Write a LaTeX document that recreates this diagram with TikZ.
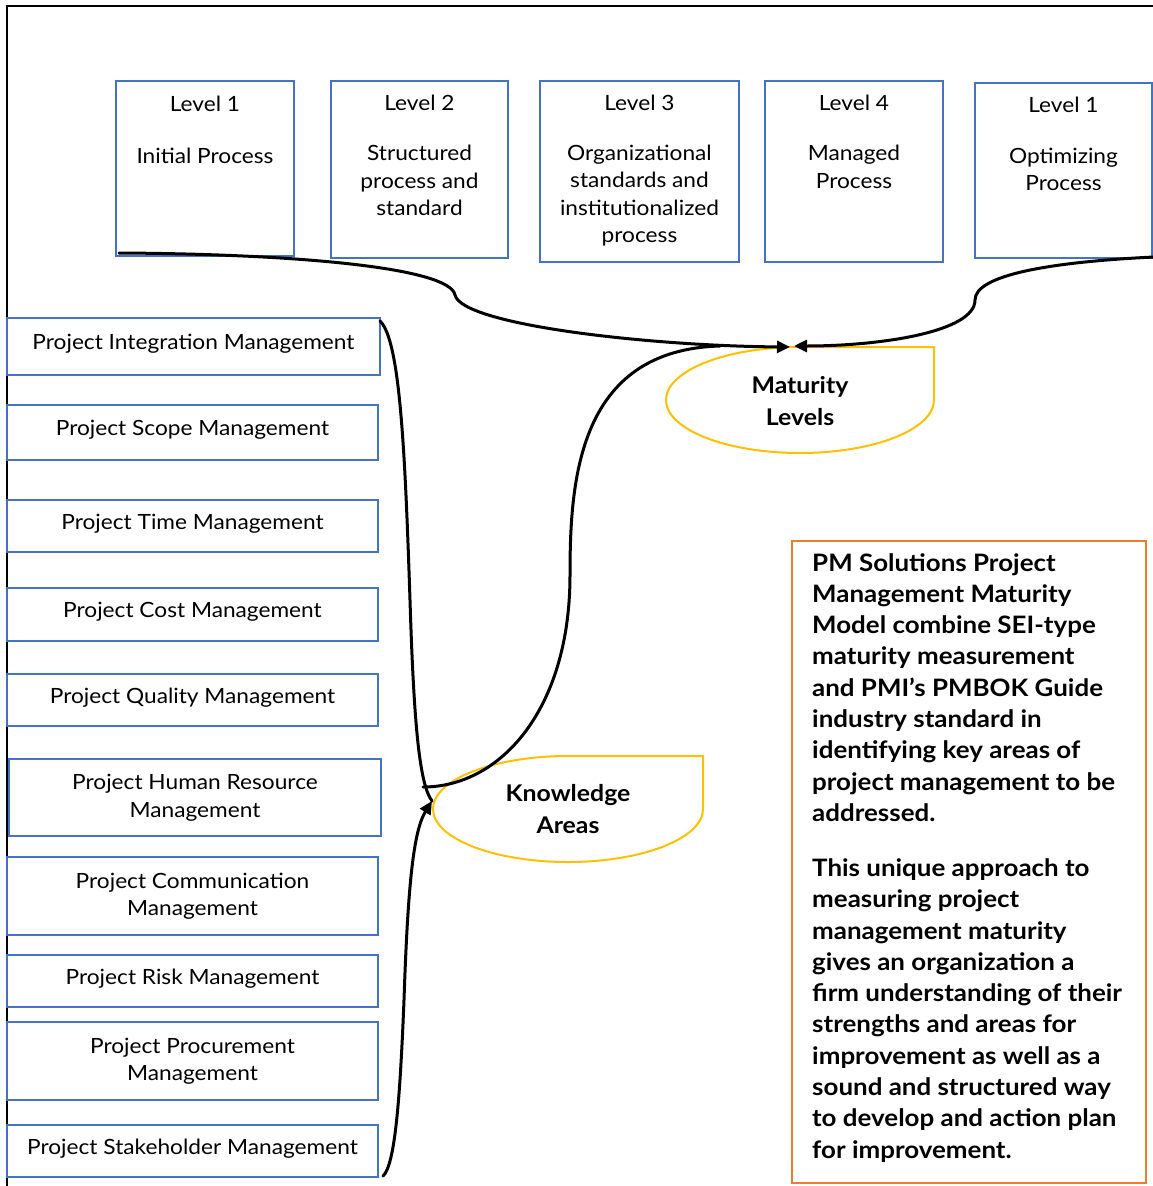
\documentclass[tikz,border=0pt]{standalone}
\usepackage{fontspec}
\setmainfont[FakeStretch=1.08]{Lato}
\usetikzlibrary{arrows.meta}
\definecolor{boxblue}{HTML}{4472C4}
\definecolor{gold}{HTML}{FFC000}
\definecolor{orng}{HTML}{ED7D31}
\begin{document}
\begin{tikzpicture}[x=1pt,y=1pt,
  lvbox/.style={draw=boxblue, line width=2pt, inner sep=0pt},
  lvtext/.style={align=center, font=\fontsize{21}{27.5}\selectfont, inner sep=0pt},
  kbox/.style={draw=boxblue, line width=2pt, inner sep=0pt, align=center, text depth=9pt, font=\fontsize{21}{27.5}\selectfont},
  kboxtwo/.style={kbox, text depth=3pt},
  tear/.style={draw=gold, line width=2pt},
  conn/.style={line width=3pt, line cap=round},
  tip/.style={-{Triangle[length=13pt,width=12pt]}},
  boldlbl/.style={align=center, font=\bfseries\fontsize{23}{32}\selectfont, inner sep=0pt}
]
\useasboundingbox (0,0) rectangle (1153,-1186);
% frame
\draw[line width=2.5pt] (7,-1186) -- (7,-6) -- (1153,-6);

% level boxes
\node[lvbox, minimum width=178pt, minimum height=175pt] (L1) at (205,-168.5) {};
\node[lvbox, minimum width=177pt, minimum height=177pt] (L2) at (419.5,-169.5) {};
\node[lvbox, minimum width=199pt, minimum height=181pt] (L3) at (639.5,-171.5) {};
\node[lvbox, minimum width=178pt, minimum height=181pt] (L4) at (854,-171.5) {};
\node[lvbox, minimum width=177pt, minimum height=175pt] (L5) at (1063.5,-170.5) {};

\node[lvtext] (L1a) at (205,-104) {Level 1};
\node[lvtext] (L1b) at (205,-156) {Initial Process};
\node[lvtext] (L2a) at (419.5,-103) {Level 2};
\node[lvtext] (L2b) at (419.5,-180.5) {Structured\\process and\\standard};
\node[lvtext] (L3a) at (639.5,-103) {Level 3};
\node[lvtext] (L3b) at (639.5,-195.5) {Organizational\\standards and\\institutionalized\\process};
\node[lvtext] (L4a) at (854,-103) {Level 4};
\node[lvtext] (L4b) at (854,-167) {Managed\\Process};
\node[lvtext] (L5a) at (1063.5,-105) {Level 1};
\node[lvtext] (L5b) at (1063.5,-169.5) {Optimizing\\Process};

% knowledge area boxes
\node[kbox, minimum width=373pt, minimum height=57pt] (K1) at (193.5,-346.5) {Project Integration Management};
\node[kbox, minimum width=371pt, minimum height=55pt] (K2) at (192.5,-432.5) {Project Scope Management};
\node[kbox, minimum width=371pt, minimum height=52pt] (K3) at (192.5,-526) {Project Time Management};
\node[kbox, minimum width=371pt, minimum height=53pt] (K4) at (192.5,-614.5) {Project Cost Management};
\node[kbox, minimum width=371pt, minimum height=52pt] (K5) at (192.5,-700) {Project Quality Management};
\node[kboxtwo, minimum width=372pt, minimum height=77pt] (K6) at (195,-797.5) {Project Human Resource\\Management};
\node[kboxtwo, minimum width=371pt, minimum height=78pt] (K7) at (192.5,-896) {Project Communication\\Management};
\node[kbox, minimum width=371pt, minimum height=52pt] (K8) at (192.5,-981) {Project Risk Management};
\node[kboxtwo, minimum width=371pt, minimum height=78pt] (K9) at (192.5,-1061) {Project Procurement\\Management};
\node[kbox, minimum width=371pt, minimum height=52pt] (K10) at (192.5,-1151) {Project Stakeholder Management};

% teardrop shapes
\draw[tear] (800,-347) -- (934,-347) -- (934,-400) arc[start angle=0, end angle=-270, x radius=134, y radius=53] -- cycle;
\node[boldlbl] (ML) at (800,-401) {Maturity\\Levels};
\draw[tear] (568,-756) -- (703,-756) -- (703,-809) arc[start angle=0, end angle=-270, x radius=135, y radius=53] -- cycle;
\node[boldlbl] (KA) at (568,-809) {Knowledge\\Areas};

% named joints
\coordinate (mtipL) at (790,-347);
\coordinate (mtipR) at (794,-346);
\coordinate (mjoin) at (720,-346);
\coordinate (kjoin) at (423,-787);
\coordinate (ktip) at (432,-801);

% connectors
\draw[conn, tip] ([shift={(4pt,4pt)}]L1.south west) .. controls (300,-254) and (450,-268) .. (455,-295)
   .. controls (462,-325) and (650,-346) .. (mtipL);
\draw[conn, tip] ([shift={(1pt,2pt)}]L5.south east) .. controls (1050,-262) and (975,-275) .. (975,-300)
   .. controls (975,-332) and (880,-346) .. (mtipR);
\draw[conn] (mjoin) .. controls (578,-350) and (570,-480) .. (570,-575)
   .. controls (570,-710) and (500,-787) .. (kjoin);
\draw[conn] ([shift={(-1pt,-4pt)}]K1.north east) .. controls (400,-340) and (405,-450) .. (410,-600)
   .. controls (414,-730) and (420,-785) .. (ktip);
\draw[conn, tip] ([shift={(4pt,2pt)}]K10.south east) .. controls (395,-1165) and (400,-1100) .. (404,-1000)
   .. controls (408,-880) and (414,-830) .. (ktip);

% orange text box
\node[draw=orng, line width=2pt, minimum width=354pt, minimum height=642pt, inner sep=0pt] (OB) at (969,-862) {};
\node[anchor=north west, align=left, inner sep=0pt, font=\bfseries\fontsize{24}{31.3}\selectfont] (OT) at (812,-553) {PM Solutions Project\\
Management Maturity\\
Model combine SEI-type\\
maturity measurement\\
and PMI’s PMBOK Guide\\
industry standard in\\
identifying key areas of\\
project management to be\\
addressed.\\[23.7pt]
This unique approach to\\
measuring project\\
management maturity\\
gives an organization a\\
firm understanding of their\\
strengths and areas for\\
improvement as well as a\\
sound and structured way\\
to develop and action plan\\
for improvement.};
\end{tikzpicture}
\end{document}
